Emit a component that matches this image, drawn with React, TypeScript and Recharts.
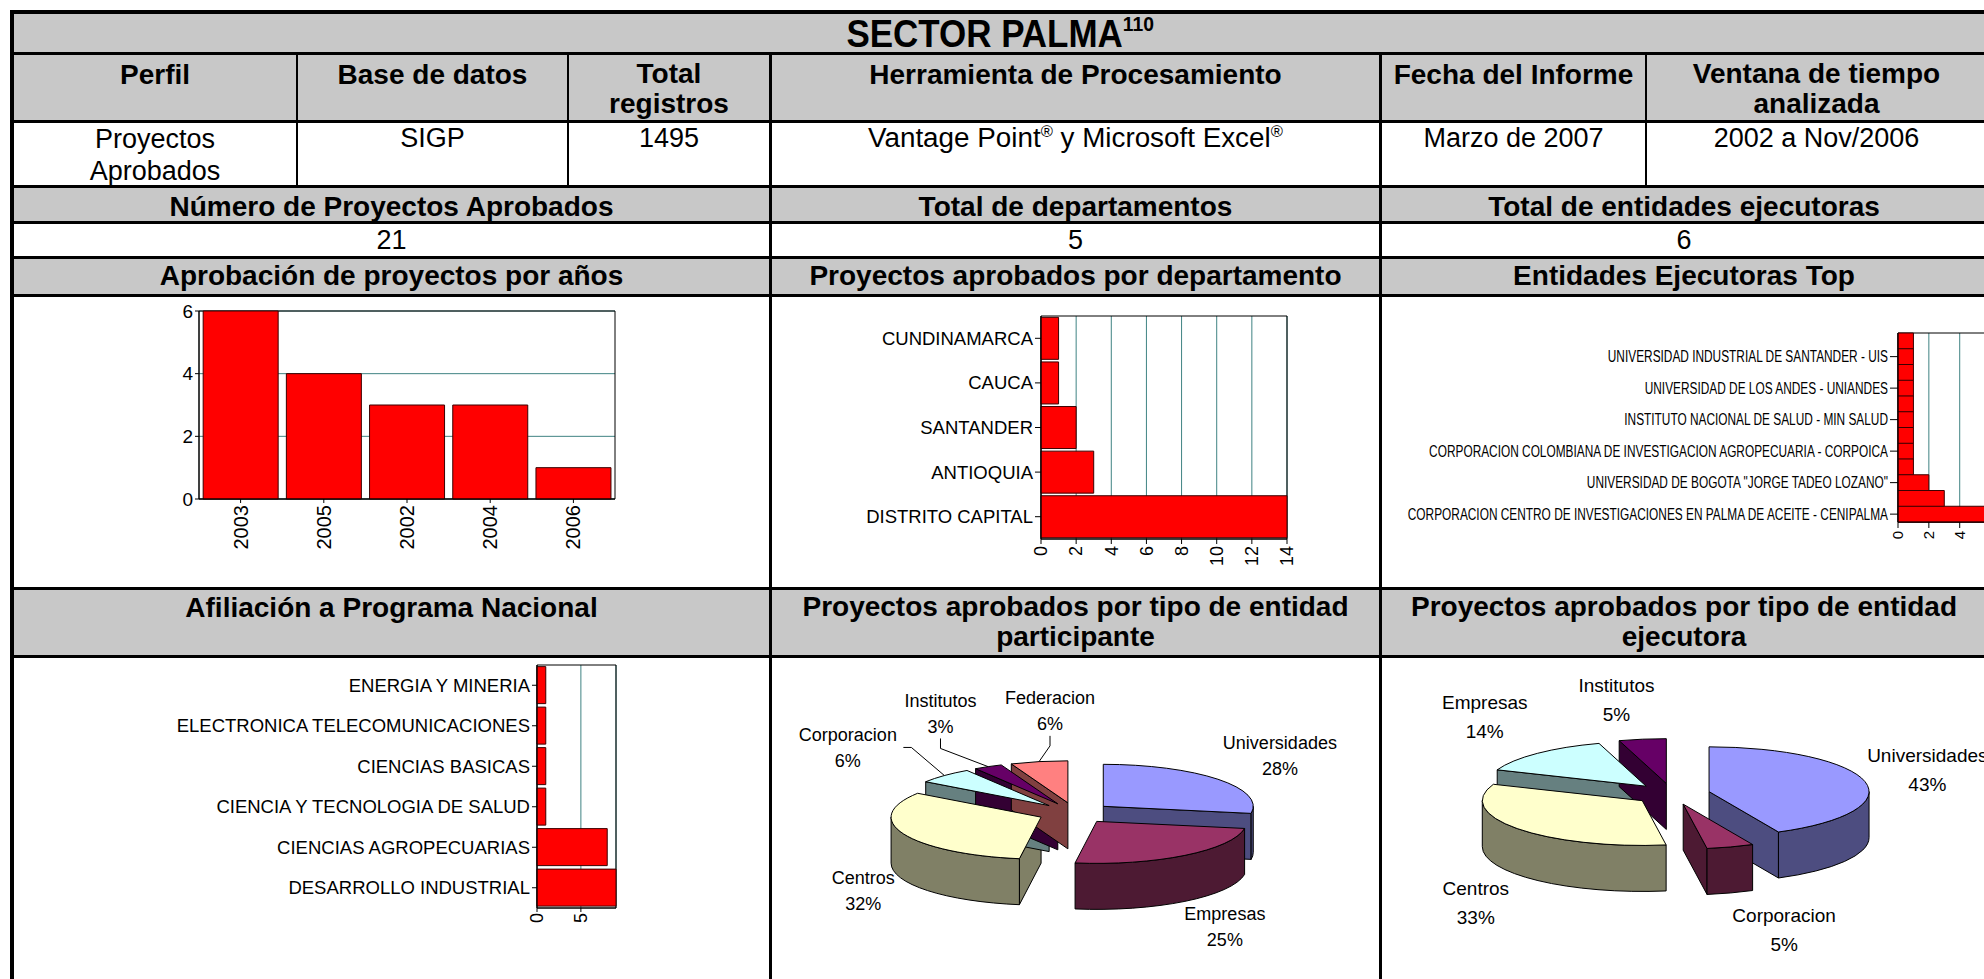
import React from 'react';
import { Bar, BarChart, CartesianGrid, Pie, PieChart, ReferenceArea, XAxis, YAxis } from 'recharts';

const FONT = '"Liberation Sans", Arial, Helvetica, sans-serif';
const RED = '#ff0000';
const BAR_EDGE = '#3a0000';
const GRID = '#3f8383';
const HEADER_BG = '#c8c8c8';

// Aprobación de proyectos por años
const YEARS = ['2003', '2005', '2002', '2004', '2006'];
const YEAR_COUNTS = [6, 4, 3, 3, 1];
const YEAR_TICKS = [0, 2, 4, 6];

// Proyectos aprobados por departamento
const DEPARTMENTS = ['CUNDINAMARCA', 'CAUCA', 'SANTANDER', 'ANTIOQUIA', 'DISTRITO CAPITAL'];
const DEPT_COUNTS = [1, 1, 2, 3, 14];
const DEPT_TICKS = [0, 2, 4, 6, 8, 10, 12, 14];

// Entidades ejecutoras top (12 barras, el gráfico sólo rotula una de cada dos)
const ENTITY_LABELS = [
  '',
  'UNIVERSIDAD INDUSTRIAL DE SANTANDER - UIS',
  '',
  'UNIVERSIDAD DE LOS ANDES - UNIANDES',
  '',
  'INSTITUTO NACIONAL DE SALUD - MIN SALUD',
  '',
  'CORPORACION COLOMBIANA DE INVESTIGACION AGROPECUARIA - CORPOICA',
  '',
  'UNIVERSIDAD DE BOGOTA "JORGE TADEO LOZANO"',
  '',
  'CORPORACION CENTRO DE INVESTIGACIONES EN PALMA DE ACEITE - CENIPALMA',
];
const ENTITY_COUNTS = [1, 1, 1, 1, 1, 1, 1, 1, 1, 2, 3, 7];
const ENTITY_TICKS = [0, 2, 4];

// Afiliación a Programa Nacional
const PROGRAMS = [
  'ENERGIA Y MINERIA',
  'ELECTRONICA TELECOMUNICACIONES',
  'CIENCIAS BASICAS',
  'CIENCIA Y TECNOLOGIA DE SALUD',
  'CIENCIAS AGROPECUARIAS',
  'DESARROLLO INDUSTRIAL',
];
const PROGRAM_COUNTS = [1, 1, 1, 1, 8, 9];
const PROGRAM_TICKS = [0, 5];

// Proyectos por tipo de entidad participante
const PARTICIPANT_TYPES = ['Universidades', 'Empresas', 'Centros', 'Corporacion', 'Institutos', 'Federacion'];
const PARTICIPANT_COUNTS = [18, 16, 21, 4, 2, 4];

// Proyectos por tipo de entidad ejecutora
const EXECUTOR_TYPES = ['Universidades', 'Corporacion', 'Centros', 'Empresas', 'Institutos'];
const EXECUTOR_COUNTS = [9, 1, 7, 3, 1];

// paleta de Excel para las tortas, por posición
const PIE_PALETTE = ['#9999ff', '#993366', '#ffffcc', '#ccffff', '#660066', '#ff8080'];

const yearData = YEARS.map((year, i) => ({ year, proyectos: YEAR_COUNTS[i] }));
const deptData = DEPARTMENTS.map((dept, i) => ({ dept, proyectos: DEPT_COUNTS[i] }));
const entityData = ENTITY_COUNTS.map((proyectos, id) => ({ id, proyectos }));
const programData = PROGRAMS.map((programa, i) => ({ programa, proyectos: PROGRAM_COUNTS[i] }));
const participantData = PARTICIPANT_TYPES.map((name, i) => ({ name, value: PARTICIPANT_COUNTS[i] }));
const executorData = EXECUTOR_TYPES.map((name, i) => ({ name, value: EXECUTOR_COUNTS[i] }));

type TickProps = { x?: number; y?: number; payload?: { value: string | number } };

const rotatedTick = (fontSize: number) => (props: TickProps) => (
  <g transform={`translate(${props.x},${props.y})`}>
    <text transform="rotate(-90)" textAnchor="end" dy="0.35em" fontSize={fontSize} fill="#000" fontFamily={FONT}>
      {props.payload?.value}
    </text>
  </g>
);

const categoryTick =
  (fontSize: number, squeeze = 1, labels?: string[], tickLen = 0) =>
  (props: TickProps) => {
    const raw = props.payload?.value;
    const text = labels ? labels[Number(raw)] : String(raw ?? '');
    if (!text) return <g />;
    return (
      <g transform={`translate(${props.x},${props.y})`}>
        {tickLen > 0 ? <line x1={2} x2={2 + tickLen} y1={0} y2={0} stroke="#000" /> : null}
        <text
          transform={`scale(${squeeze},1)`}
          textAnchor="end"
          dy="0.35em"
          fontSize={fontSize}
          fill="#000"
          fontFamily={FONT}
        >
          {text}
        </text>
      </g>
    );
  };

// ---- torta 3D ----
type PieCfg = {
  tilt: number;
  depth: number;
  explode: number;
  labelRx: number;
  labelRy: number;
  lineH: number;
  fontSize: number;
  nudges: number[][];
  leaders: boolean;
};

type SliceProps = {
  cx: number;
  cy: number;
  outerRadius: number;
  startAngle: number;
  endAngle: number;
  percent: number;
  index: number;
  name?: string;
  payload?: { name?: string };
};

const PARTICIPANT_PIE: PieCfg = {
  tilt: 0.28,
  depth: 46,
  explode: 37,
  labelRx: 255,
  labelRy: 100,
  lineH: 26,
  fontSize: 18,
  nudges: [[10, 7], [0, -4], [22, 19], [-49, 6], [-16, -11], [24, -4]],
  leaders: true,
};

const EXECUTOR_PIE: PieCfg = {
  tilt: 0.28,
  depth: 46,
  explode: 38,
  labelRx: 265,
  labelRy: 103,
  lineH: 29,
  fontSize: 19,
  nudges: [[-3, -1], [34, -7], [11, 16], [-7, -2], [-16, 8]],
  leaders: false,
};

const rad = (d: number) => (d * Math.PI) / 180;

const shade = (hex: string, f: number) => {
  const n = parseInt(hex.slice(1), 16);
  const r = Math.round(((n >> 16) & 255) * f);
  const g = Math.round(((n >> 8) & 255) * f);
  const b = Math.round((n & 255) * f);
  return `rgb(${r},${g},${b})`;
};

const sliceFrame = (p: SliceProps, cfg: PieCfg) => {
  const rx = p.outerRadius;
  const ry = rx * cfg.tilt;
  // ángulos medidos desde las 12 en sentido horario
  let a0 = 90 - p.startAngle;
  let a1 = 90 - p.endAngle;
  if (a0 > a1) [a0, a1] = [a1, a0];
  const am = (a0 + a1) / 2;
  const ox = p.cx + cfg.explode * Math.sin(rad(am));
  const oy = p.cy - cfg.explode * cfg.tilt * Math.cos(rad(am));
  const pt = (a: number, dz = 0): [number, number] => [
    ox + rx * Math.sin(rad(a)),
    oy - ry * Math.cos(rad(a)) + dz,
  ];
  return { rx, ry, a0, a1, am, ox, oy, pt };
};

const renderWalls = (cfg: PieCfg) => (p: SliceProps) => {
  const f = sliceFrame(p, cfg);
  const d = cfg.depth;
  const color = shade(PIE_PALETTE[p.index % PIE_PALETTE.length], 0.5);
  const parts: string[] = [];
  const radial = (a: number) => {
    const [x, y] = f.pt(a);
    return `M${f.ox},${f.oy}L${x},${y}L${x},${y + d}L${f.ox},${f.oy + d}Z`;
  };
  if (Math.sin(rad(f.a0)) < -1e-6) parts.push(radial(f.a0));
  if (Math.sin(rad(f.a1)) > 1e-6) parts.push(radial(f.a1));
  const lo = Math.max(f.a0, 90);
  const hi = Math.min(f.a1, 270);
  if (hi > lo) {
    const [x0, y0] = f.pt(lo);
    const [x1, y1] = f.pt(hi);
    const large = hi - lo > 180 ? 1 : 0;
    parts.push(
      `M${x0},${y0}A${f.rx},${f.ry} 0 ${large} 1 ${x1},${y1}L${x1},${y1 + d}A${f.rx},${f.ry} 0 ${large} 0 ${x0},${y0 + d}Z`
    );
  }
  return (
    <g>
      {parts.map((path, i) => (
        <path key={i} d={path} fill={color} stroke="#000" strokeWidth={1} strokeLinejoin="round" />
      ))}
    </g>
  );
};

const renderTops = (cfg: PieCfg) => (p: SliceProps) => {
  const f = sliceFrame(p, cfg);
  const [xs, ys] = f.pt(f.a0);
  const [xe, ye] = f.pt(f.a1);
  const large = f.a1 - f.a0 > 180 ? 1 : 0;
  const top = `M${f.ox},${f.oy}L${xs},${ys}A${f.rx},${f.ry} 0 ${large} 1 ${xe},${ye}Z`;

  const s = Math.sin(rad(f.am));
  const c = Math.cos(rad(f.am));
  const nudge = cfg.nudges[p.index] ?? [0, 0];
  const lx = p.cx + cfg.labelRx * s + nudge[0];
  const ly = p.cy - cfg.labelRy * c + (c < 0 ? -cfg.depth * c : 0) + nudge[1];
  const name = p.payload?.name ?? p.name ?? '';
  const pct = `${Math.round(p.percent * 100)}%`;

  let leader: React.ReactNode = null;
  if (cfg.leaders && p.percent < 0.08) {
    const [px, py] = f.pt(f.am);
    let pts: number[][];
    if (Math.abs(px - lx) > 60) {
      const half = name.length * 0.26 * cfg.fontSize;
      pts = [[lx + half + 4, ly], [lx + half + 12, ly], [px, py]];
    } else {
      const y0 = ly + cfg.lineH / 2 + 12;
      pts = [[lx, y0], [lx, y0 + 10], [px, py]];
    }
    leader = <polyline points={pts.map((q) => q.join(',')).join(' ')} fill="none" stroke="#000" strokeWidth={1} />;
  }

  return (
    <g>
      <path d={top} fill={PIE_PALETTE[p.index % PIE_PALETTE.length]} stroke="#000" strokeWidth={1} strokeLinejoin="round" />
      {leader}
      <text textAnchor="middle" fontSize={cfg.fontSize} fontFamily={FONT} fill="#000">
        <tspan x={lx} y={ly - cfg.lineH / 2} dy="0.35em">
          {name}
        </tspan>
        <tspan x={lx} y={ly + cfg.lineH / 2} dy="0.35em">
          {pct}
        </tspan>
      </text>
    </g>
  );
};

// ---- tabla ----
type TxtProps = {
  x0: number;
  x1: number;
  baseline: number;
  size?: number;
  bold?: boolean;
  stretch?: number;
  lh?: number;
  children: React.ReactNode;
};

const Txt = ({ x0, x1, baseline, size, bold = false, stretch = 1, lh = 31, children }: TxtProps) => {
  const fs = size ?? (bold ? 28 : 27);
  const top = baseline - ((lh - fs * 1.117) / 2 + 0.905 * fs);
  return (
    <div
      style={{
        position: 'absolute',
        left: x0,
        width: x1 - x0,
        top,
        textAlign: 'center',
        fontSize: fs,
        fontWeight: bold ? 700 : 400,
        lineHeight: `${lh}px`,
        whiteSpace: 'pre',
      }}
    >
      <span style={{ display: 'inline-block', transform: `scaleX(${stretch})` }}>{children}</span>
    </div>
  );
};

const Reg = () => <span style={{ fontSize: 16, position: 'relative', top: -10 }}>®</span>;

const FILLS = [
  { y0: 14, y1: 52 },
  { y0: 55, y1: 120 },
  { y0: 188, y1: 221 },
  { y0: 259, y1: 294 },
  { y0: 590, y1: 655 },
];

const H_LINES = [
  { y: 10, h: 4 },
  { y: 52, h: 3 },
  { y: 120, h: 3 },
  { y: 185, h: 3 },
  { y: 221, h: 3 },
  { y: 256, h: 3 },
  { y: 294, h: 3 },
  { y: 587, h: 3 },
  { y: 655, h: 3 },
];

const V_LINES = [
  { x: 10, w: 4, y0: 10, y1: 979 },
  { x: 296, w: 2, y0: 52, y1: 188 },
  { x: 567, w: 2, y0: 52, y1: 188 },
  { x: 769, w: 3, y0: 52, y1: 979 },
  { x: 1379, w: 3, y0: 52, y1: 979 },
  { x: 1645, w: 2, y0: 52, y1: 188 },
];

const axisLine = { stroke: '#000' };

export default function App() {
  return (
    <div
      style={{
        position: 'relative',
        width: 1984,
        height: 979,
        overflow: 'hidden',
        background: '#fff',
        fontFamily: FONT,
        color: '#000',
      }}
    >
      <style>{'body{margin:0}'}</style>

      {FILLS.map((r, i) => (
        <div key={i} style={{ position: 'absolute', left: 14, width: 1980, top: r.y0, height: r.y1 - r.y0, background: HEADER_BG }} />
      ))}

      {/* Aprobación de proyectos por años */}
      <div style={{ position: 'absolute', left: 14, top: 297 }}>
        <BarChart width={755} height={290} data={yearData} margin={{ top: 14, right: 154, bottom: 0, left: 0 }} barCategoryGap="5%">
          <CartesianGrid vertical={false} stroke={GRID} />
          <XAxis dataKey="year" interval={0} height={88} tickSize={4} tickMargin={2} axisLine={axisLine} tickLine={axisLine} tick={rotatedTick(20)} />
          <YAxis
            type="number"
            domain={[0, 6]}
            ticks={YEAR_TICKS}
            width={185}
            tickSize={4}
            tickMargin={2}
            axisLine={axisLine}
            tickLine={axisLine}
            tick={{ fontSize: 19, fill: '#000', fontFamily: FONT }}
          />
          <Bar dataKey="proyectos" fill={RED} stroke={BAR_EDGE} strokeWidth={1} isAnimationActive={false} />
          <ReferenceArea y1={0} y2={6} fill="none" stroke="#000" strokeWidth={1} ifOverflow="visible" />
        </BarChart>
      </div>

      {/* Proyectos aprobados por departamento */}
      <div style={{ position: 'absolute', left: 772, top: 297 }}>
        <BarChart layout="vertical" width={607} height={290} data={deptData} margin={{ top: 19, right: 92, bottom: 0, left: 0 }} barCategoryGap="3%">
          <CartesianGrid horizontal={false} stroke={GRID} />
          <XAxis type="number" domain={[0, 14]} ticks={DEPT_TICKS} interval={0} height={48} tickSize={5} tickMargin={2} axisLine={axisLine} tickLine={axisLine} tick={rotatedTick(18)} />
          <YAxis type="category" dataKey="dept" interval={0} width={269} tickSize={6} tickMargin={2} axisLine={axisLine} tickLine={axisLine} tick={categoryTick(18.5)} />
          <Bar dataKey="proyectos" fill={RED} stroke={BAR_EDGE} strokeWidth={1} isAnimationActive={false} />
          <ReferenceArea x1={0} x2={14} fill="none" stroke="#000" strokeWidth={1} ifOverflow="visible" />
        </BarChart>
      </div>

      {/* Entidades Ejecutoras Top */}
      <div style={{ position: 'absolute', left: 1382, top: 297 }}>
        <BarChart layout="vertical" width={640} height={290} data={entityData} margin={{ top: 36, right: 16, bottom: 0, left: 0 }} barCategoryGap={0}>
          <CartesianGrid horizontal={false} stroke={GRID} />
          <XAxis type="number" domain={[0, 7]} ticks={ENTITY_TICKS} interval={0} height={65} tickSize={6} tickMargin={3} axisLine={axisLine} tickLine={axisLine} tick={rotatedTick(15)} />
          <YAxis
            type="category"
            dataKey="id"
            interval={0}
            width={516}
            tickSize={8}
            tickMargin={2}
            axisLine={axisLine}
            tickLine={false}
            tick={categoryTick(16.5, 0.72, ENTITY_LABELS, 8)}
          />
          <Bar dataKey="proyectos" fill={RED} stroke={BAR_EDGE} strokeWidth={1} isAnimationActive={false} />
          <ReferenceArea x1={0} x2={7} fill="none" stroke="#000" strokeWidth={1} ifOverflow="visible" />
        </BarChart>
      </div>

      {/* Afiliación a Programa Nacional */}
      <div style={{ position: 'absolute', left: 14, top: 658 }}>
        <BarChart layout="vertical" width={755} height={321} data={programData} margin={{ top: 7, right: 153, bottom: 0, left: 0 }} barCategoryGap="4%">
          <CartesianGrid horizontal={false} stroke={GRID} />
          <XAxis type="number" domain={[0, 9]} ticks={PROGRAM_TICKS} interval={0} height={71} tickSize={4} tickMargin={1} axisLine={axisLine} tickLine={axisLine} tick={rotatedTick(18)} />
          <YAxis type="category" dataKey="programa" interval={0} width={523} tickSize={5} tickMargin={2} axisLine={axisLine} tickLine={axisLine} tick={categoryTick(18.5)} />
          <Bar dataKey="proyectos" fill={RED} stroke={BAR_EDGE} strokeWidth={1} isAnimationActive={false} />
          <ReferenceArea x1={0} x2={9} fill="none" stroke="#000" strokeWidth={1} ifOverflow="visible" />
        </BarChart>
      </div>

      {/* Proyectos aprobados por tipo de entidad participante */}
      <div style={{ position: 'absolute', left: 772, top: 658 }}>
        <PieChart width={607} height={321} margin={{ top: 0, right: 0, bottom: 0, left: 0 }}>
          <Pie
            data={participantData}
            dataKey="value"
            nameKey="name"
            cx={303}
            cy={155}
            outerRadius={150}
            startAngle={90}
            endAngle={-270}
            fill="none"
            stroke="none"
            labelLine={false}
            label={renderWalls(PARTICIPANT_PIE)}
            isAnimationActive={false}
          />
          <Pie
            data={participantData}
            dataKey="value"
            nameKey="name"
            cx={303}
            cy={155}
            outerRadius={150}
            startAngle={90}
            endAngle={-270}
            fill="none"
            stroke="none"
            labelLine={false}
            label={renderTops(PARTICIPANT_PIE)}
            isAnimationActive={false}
          />
        </PieChart>
      </div>

      {/* Proyectos aprobados por tipo de entidad ejecutora */}
      <div style={{ position: 'absolute', left: 1382, top: 658 }}>
        <PieChart width={640} height={321} margin={{ top: 0, right: 0, bottom: 0, left: 0 }}>
          <Pie
            data={executorData}
            dataKey="value"
            nameKey="name"
            cx={290}
            cy={136}
            outerRadius={160}
            startAngle={90}
            endAngle={-270}
            fill="none"
            stroke="none"
            labelLine={false}
            label={renderWalls(EXECUTOR_PIE)}
            isAnimationActive={false}
          />
          <Pie
            data={executorData}
            dataKey="value"
            nameKey="name"
            cx={290}
            cy={136}
            outerRadius={160}
            startAngle={90}
            endAngle={-270}
            fill="none"
            stroke="none"
            labelLine={false}
            label={renderTops(EXECUTOR_PIE)}
            isAnimationActive={false}
          />
        </PieChart>
      </div>

      {/* textos de la tabla */}
      <Txt x0={14} x1={1986} baseline={47} size={38} bold stretch={0.92} lh={38}>
        SECTOR PALMA<span style={{ fontSize: 21, position: 'relative', top: -16 }}>110</span>
      </Txt>

      <Txt x0={14} x1={296} baseline={84} bold>Perfil</Txt>
      <Txt x0={298} x1={567} baseline={84} bold>Base de datos</Txt>
      <Txt x0={569} x1={769} baseline={84} bold lh={30}>{'Total\nregistros'}</Txt>
      <Txt x0={772} x1={1379} baseline={84} bold>Herramienta de Procesamiento</Txt>
      <Txt x0={1382} x1={1645} baseline={84} bold>Fecha del Informe</Txt>
      <Txt x0={1647} x1={1986} baseline={84} bold lh={30}>{'Ventana de tiempo\nanalizada'}</Txt>

      <Txt x0={14} x1={296} baseline={148} lh={32}>{'Proyectos\nAprobados'}</Txt>
      <Txt x0={298} x1={567} baseline={148}>SIGP</Txt>
      <Txt x0={569} x1={769} baseline={148}>1495</Txt>
      <Txt x0={772} x1={1379} baseline={148} stretch={1.03}>
        Vantage Point<Reg /> y Microsoft Excel<Reg />
      </Txt>
      <Txt x0={1382} x1={1645} baseline={148}>Marzo de 2007</Txt>
      <Txt x0={1647} x1={1986} baseline={148}>2002 a Nov/2006</Txt>

      <Txt x0={14} x1={769} baseline={216} bold>Número de Proyectos Aprobados</Txt>
      <Txt x0={772} x1={1379} baseline={216} bold>Total de departamentos</Txt>
      <Txt x0={1382} x1={1986} baseline={216} bold>Total de entidades ejecutoras</Txt>

      <Txt x0={14} x1={769} baseline={250}>21</Txt>
      <Txt x0={772} x1={1379} baseline={250}>5</Txt>
      <Txt x0={1382} x1={1986} baseline={250}>6</Txt>

      <Txt x0={14} x1={769} baseline={285} bold>Aprobación de proyectos por años</Txt>
      <Txt x0={772} x1={1379} baseline={285} bold>Proyectos aprobados por departamento</Txt>
      <Txt x0={1382} x1={1986} baseline={285} bold>Entidades Ejecutoras Top</Txt>

      <Txt x0={14} x1={769} baseline={617} bold>Afiliación a Programa Nacional</Txt>
      <Txt x0={772} x1={1379} baseline={617} bold lh={30}>{'Proyectos aprobados por tipo de entidad\nparticipante'}</Txt>
      <Txt x0={1382} x1={1986} baseline={617} bold lh={30}>{'Proyectos aprobados por tipo de entidad\nejecutora'}</Txt>

      {H_LINES.map((l, i) => (
        <div key={`h${i}`} style={{ position: 'absolute', left: 10, width: 1984, top: l.y, height: l.h, background: '#000' }} />
      ))}
      {V_LINES.map((l, i) => (
        <div key={`v${i}`} style={{ position: 'absolute', left: l.x, width: l.w, top: l.y0, height: l.y1 - l.y0, background: '#000' }} />
      ))}
    </div>
  );
}
